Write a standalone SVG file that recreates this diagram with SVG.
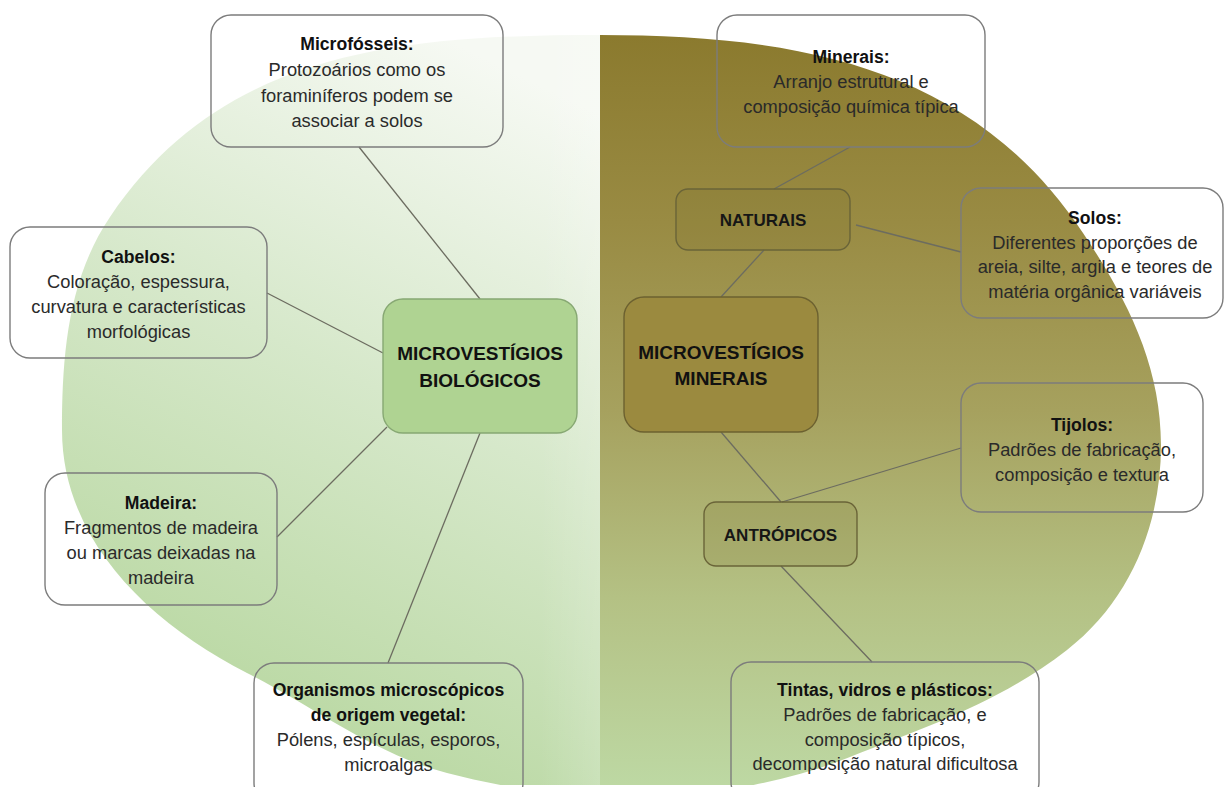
<svg xmlns="http://www.w3.org/2000/svg" width="1224" height="787" viewBox="0 0 1224 787">
  <defs>
    <linearGradient id="bioGrad" x1="0.7" y1="0" x2="0.35" y2="1">
      <stop offset="0" stop-color="#f6f9f3"/>
      <stop offset="0.45" stop-color="#d6e8ca"/>
      <stop offset="1" stop-color="#b4d59b"/>
    </linearGradient>
    <linearGradient id="bioEdge" gradientUnits="userSpaceOnUse" x1="540" y1="0" x2="600" y2="0">
      <stop offset="0" stop-color="#ffffff" stop-opacity="0"/>
      <stop offset="1" stop-color="#ffffff" stop-opacity="0.15"/>
    </linearGradient>
    <linearGradient id="minGrad" gradientUnits="userSpaceOnUse" x1="0" y1="35" x2="0" y2="785">
      <stop offset="0" stop-color="#8b7a2e"/>
      <stop offset="0.25" stop-color="#998b43"/>
      <stop offset="0.5" stop-color="#a6a15e"/>
      <stop offset="0.75" stop-color="#b4c184"/>
      <stop offset="1" stop-color="#bdd8a3"/>
    </linearGradient>
    <clipPath id="page">
      <rect x="0" y="0" width="1224" height="785"/>
    </clipPath>
  </defs>
  <style>
    .card { fill: none; stroke: #7c7c7c; stroke-width: 1.4; }
    .sub { fill: rgba(120,110,45,0.18); stroke: #6a6438; stroke-width: 1.4; }
    .bio { fill: #afd392; stroke: #87a873; stroke-width: 1.4; }
    .min { fill: #9b8a3f; stroke: #6c6130; stroke-width: 1.4; }
    .link { stroke: #6c6c60; stroke-width: 1.3; fill: none; }
    text { font-family: "Liberation Sans", Arial, sans-serif; text-anchor: middle; }
    .t { font-weight: bold; font-size: 17.6px; fill: #111; }
    .b { font-size: 18.3px; fill: #2a2a2a; }
    .k { font-weight: bold; font-size: 17px; fill: #161616; }
    .h { font-weight: bold; font-size: 19px; fill: #111; }
  </style>

  <!-- background halves -->
  <g id="background" clip-path="url(#page)">
    <path d="M600,35 C400,35 222,51 110,217 C68,279 62,355 62,430 C62,540 149,623 247,673 C314,707 374,754 447,773 C497,786 550,795 600,795 Z" fill="url(#bioGrad)"/>
    <path d="M600,35 C400,35 222,51 110,217 C68,279 62,355 62,430 C62,540 149,623 247,673 C314,707 374,754 447,773 C497,786 550,795 600,795 Z" fill="url(#bioEdge)"/>
    <path d="M600,35 C800,35 973,67 1083,233 C1127,299 1161,365 1161,445 C1161,525 1130,601 1067,650 C1000,702 929,726 850,757 C776,787 680,800 600,800 Z" fill="url(#minGrad)"/>
  </g>

  <!-- connectors -->
  <g id="connectors" class="link">
    <line x1="359" y1="147" x2="480" y2="299"/>
    <line x1="267" y1="293" x2="383" y2="353"/>
    <line x1="277" y1="537" x2="387" y2="427"/>
    <line x1="480" y1="433" x2="388" y2="663"/>
    <line x1="850" y1="147" x2="774" y2="189"/>
    <line x1="856" y1="225" x2="961" y2="252"/>
    <line x1="764" y1="250" x2="721" y2="297"/>
    <line x1="721" y1="432" x2="781" y2="502"/>
    <line x1="782" y1="502" x2="961" y2="448"/>
    <line x1="781" y1="566" x2="872" y2="662"/>
  </g>

  <!-- biological side -->
  <g id="microfosseis">
    <rect class="card" x="211" y="15" width="292" height="132" rx="20"/>
    <text class="t" x="357" y="50">Microfósseis:</text>
    <text class="b" x="357" y="76">Protozoários como os</text>
    <text class="b" x="357" y="101.5">foraminíferos podem se</text>
    <text class="b" x="357" y="127">associar a solos</text>
  </g>
  <g id="cabelos">
    <rect class="card" x="10" y="227" width="257" height="131" rx="20"/>
    <text class="t" x="138.5" y="263">Cabelos:</text>
    <text class="b" x="138.5" y="288">Coloração, espessura,</text>
    <text class="b" x="138.5" y="313">curvatura e características</text>
    <text class="b" x="138.5" y="338">morfológicas</text>
  </g>
  <g id="madeira">
    <rect class="card" x="45" y="473" width="232" height="132" rx="20"/>
    <text class="t" x="161" y="509">Madeira:</text>
    <text class="b" x="161" y="534">Fragmentos de madeira</text>
    <text class="b" x="161" y="559">ou marcas deixadas na</text>
    <text class="b" x="161" y="584">madeira</text>
  </g>
  <g id="organismos">
    <rect class="card" x="254" y="663" width="269" height="140" rx="20"/>
    <text class="t" x="388.5" y="696">Organismos microscópicos</text>
    <text class="t" x="388.5" y="721">de origem vegetal:</text>
    <text class="b" x="388.5" y="746">Pólens, espículas, esporos,</text>
    <text class="b" x="388.5" y="771">microalgas</text>
  </g>
  <g id="biologicos">
    <rect class="bio" x="383" y="299" width="194" height="134" rx="20"/>
    <text class="h" x="480" y="360">MICROVESTÍGIOS</text>
    <text class="h" x="480" y="387">BIOLÓGICOS</text>
  </g>

  <!-- mineral side -->
  <g id="minerais-box">
    <rect class="min" x="624" y="297" width="194" height="135" rx="20"/>
    <text class="h" x="721" y="359">MICROVESTÍGIOS</text>
    <text class="h" x="721" y="385">MINERAIS</text>
  </g>
  <g id="naturais">
    <rect class="sub" x="676" y="189" width="174" height="61" rx="12"/>
    <text class="k" x="763" y="226">NATURAIS</text>
  </g>
  <g id="antropicos">
    <rect class="sub" x="704" y="502" width="153" height="64" rx="12"/>
    <text class="k" x="780.5" y="541">ANTRÓPICOS</text>
  </g>
  <g id="minerais">
    <rect class="card" x="717" y="15" width="268" height="132" rx="20"/>
    <text class="t" x="851" y="63">Minerais:</text>
    <text class="b" x="851" y="88">Arranjo estrutural e</text>
    <text class="b" x="851" y="113">composição química típica</text>
  </g>
  <g id="solos">
    <rect class="card" x="961" y="188" width="262" height="130" rx="20"/>
    <text class="t" x="1095" y="224">Solos:</text>
    <text class="b" x="1095" y="249">Diferentes proporções de</text>
    <text class="b" x="1095" y="273">areia, silte, argila e teores de</text>
    <text class="b" x="1095" y="298">matéria orgânica variáveis</text>
  </g>
  <g id="tijolos">
    <rect class="card" x="961" y="383" width="242" height="129" rx="20"/>
    <text class="t" x="1082" y="431">Tijolos:</text>
    <text class="b" x="1082" y="456">Padrões de fabricação,</text>
    <text class="b" x="1082" y="481">composição e textura</text>
  </g>
  <g id="tintas">
    <rect class="card" x="731" y="662" width="308" height="140" rx="20"/>
    <text class="t" x="885" y="696">Tintas, vidros e plásticos:</text>
    <text class="b" x="885" y="721">Padrões de fabricação, e</text>
    <text class="b" x="885" y="746">composição típicos,</text>
    <text class="b" x="885" y="770">decomposição natural dificultosa</text>
  </g>
</svg>
